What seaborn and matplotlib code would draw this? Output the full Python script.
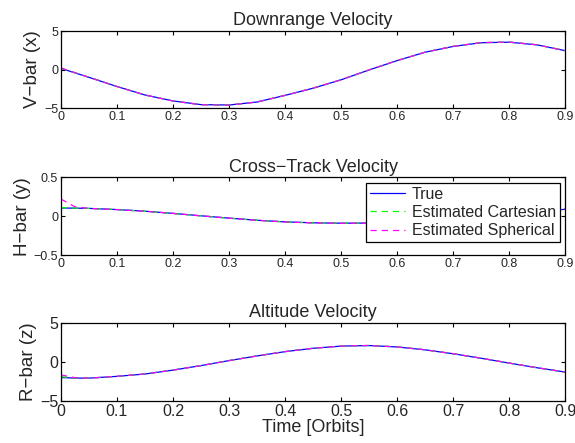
import matplotlib
matplotlib.use("Agg")
import matplotlib.pyplot as plt
import seaborn as sns

sns.set_style("ticks")
plt.rcParams["font.family"] = ["Liberation Sans", "DejaVu Sans"]
plt.rcParams["xtick.direction"] = "in"
plt.rcParams["ytick.direction"] = "in"
plt.rcParams["axes.unicode_minus"] = True

# time in orbits
time = [0, 0.025, 0.05, 0.1, 0.15, 0.2, 0.25, 0.3, 0.35, 0.4, 0.45,
        0.5, 0.55, 0.6, 0.65, 0.7, 0.75, 0.8, 0.85, 0.9]

# downrange (V-bar)
vx_true = [0.15, -0.43, -1.01, -2.2, -3.3, -4.07, -4.55, -4.6, -4.21, -3.35,
           -2.42, -1.33, -0.05, 1.16, 2.25, 3.0, 3.48, 3.55, 3.2, 2.45]
vx_cart = [0.18, -0.42, -1.0, -2.19, -3.31, -4.08, -4.56, -4.6, -4.2, -3.34,
           -2.41, -1.32, -0.04, 1.17, 2.26, 3.01, 3.49, 3.56, 3.21, 2.46]
vx_sph = [0.2, -0.4, -1.0, -2.2, -3.3, -4.08, -4.57, -4.61, -4.21, -3.35,
          -2.42, -1.33, -0.05, 1.16, 2.25, 3.0, 3.5, 3.57, 3.21, 2.45]

# cross-track (H-bar)
vy_true = [0.105, 0.103, 0.1, 0.085, 0.064, 0.036, 0.005, -0.025, -0.052, -0.073,
           -0.085, -0.09, -0.088, -0.078, -0.058, -0.03, 0.0, 0.03, 0.062, 0.088]
vy_cart = [0.11, 0.104, 0.1, 0.085, 0.063, 0.035, 0.004, -0.026, -0.052, -0.074,
           -0.086, -0.09, -0.088, -0.078, -0.058, -0.03, 0.0, 0.031, 0.063, 0.09]
vy_sph = [0.22, 0.12, 0.1, 0.084, 0.063, 0.036, 0.004, -0.025, -0.053, -0.074,
          -0.086, -0.091, -0.089, -0.078, -0.057, -0.029, 0.001, 0.031, 0.064, 0.092]

# altitude (R-bar)
vz_true = [-2.0, -2.07, -2.08, -1.85, -1.55, -1.05, -0.47, 0.17, 0.77, 1.32,
           1.75, 2.03, 2.1, 1.92, 1.55, 1.05, 0.47, -0.15, -0.75, -1.3]
vz_cart = [-1.9, -2.05, -2.08, -1.85, -1.54, -1.04, -0.46, 0.18, 0.78, 1.33,
           1.76, 2.04, 2.11, 1.93, 1.55, 1.05, 0.47, -0.15, -0.75, -1.3]
vz_sph = [-1.67, -2.02, -2.08, -1.84, -1.54, -1.05, -0.47, 0.17, 0.77, 1.32,
          1.75, 2.04, 2.11, 1.93, 1.56, 1.06, 0.48, -0.14, -0.74, -1.29]

titles = ["Downrange Velocity", "Cross\u2212Track Velocity", "Altitude Velocity"]
ylabels = ["V\u2212bar (x)", "H\u2212bar (y)", "R\u2212bar (z)"]
ylims = [(-5, 5), (-0.5, 0.5), (-5, 5)]
yticks = [[-5, 0, 5], [-0.5, 0, 0.5], [-5, 0, 5]]
xticks = [0, 0.1, 0.2, 0.3, 0.4, 0.5, 0.6, 0.7, 0.8, 0.9]

fig = plt.figure(figsize=(5.75, 4.43), dpi=100)
boxes = [[0.106, 0.756, 0.877, 0.174],
         [0.106, 0.424, 0.877, 0.176],
         [0.106, 0.095, 0.877, 0.176]]
series = [(vx_true, vx_cart, vx_sph), (vy_true, vy_cart, vy_sph), (vz_true, vz_cart, vz_sph)]

for i, (box, (tr, ca, sp)) in enumerate(zip(boxes, series)):
    ax = fig.add_axes(box)
    sns.lineplot(x=time, y=tr, ax=ax, color="blue", lw=0.9, label="True")
    sns.lineplot(x=time, y=ca, ax=ax, color="#00ff00", lw=0.9, ls=(0, (5, 4)),
                 label="Estimated Cartesian")
    sns.lineplot(x=time, y=sp, ax=ax, color="magenta", lw=0.9, ls=(0, (5, 4)),
                 label="Estimated Spherical")
    ax.set_xlim(0, 0.9)
    ax.set_ylim(*ylims[i])
    ax.set_xticks(xticks)
    ax.set_xticklabels([f"{t:g}" for t in xticks])
    ax.set_yticks(yticks[i])
    ax.set_yticklabels([f"{v:g}".replace("-", "\u2212") for v in yticks[i]])
    tick_fs = 11.5 if i == 2 else 9
    ax.tick_params(axis="both", labelsize=tick_fs, top=True, right=True,
                   length=3, width=0.8, color="black", pad=2)
    for s in ax.spines.values():
        s.set_color("black")
        s.set_linewidth(0.9)
    ax.set_title(titles[i], fontsize=13, pad=4)
    ax.set_ylabel(ylabels[i], fontsize=13.5, labelpad=2)
    if i == 1:
        leg = ax.legend(loc="upper right", fontsize=11.5, frameon=True, fancybox=False,
                        edgecolor="black", handlelength=2.2, borderpad=0.25,
                        labelspacing=0.2, borderaxespad=0.35, handletextpad=0.4)
        leg.get_frame().set_linewidth(0.9)
        leg.get_frame().set_alpha(1)
    else:
        ax.get_legend().remove()
    if i == 2:
        ax.set_xlabel("Time [Orbits]", fontsize=13, labelpad=0)

fig.savefig("out.png", dpi=100)
